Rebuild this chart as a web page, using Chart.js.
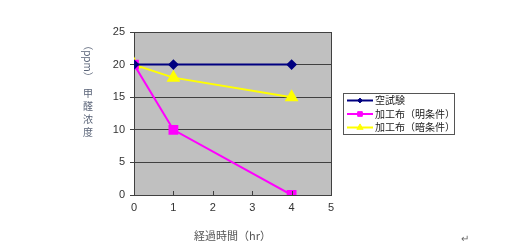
<!DOCTYPE html>
<html><head><meta charset="utf-8">
<script src="https://cdn.jsdelivr.net/npm/chart.js@4/dist/chart.umd.min.js"></script>
<style>html,body{margin:0;padding:0;background:#fff;}#c{display:block;}</style>
</head><body>
<canvas id="c" width="505" height="246"></canvas>
<script>
const xValues = [0, 1, 4];
const seriesNames = ['空試験', '加工布（明条件）', '加工布（暗条件）'];
const blank = [20, 20, 20];
const lightCond = [20, 10, 0];
const darkCond = [20, 18, 15];
const xTitle = '経過時間（hr）';
const yTitleUnit = '（ppm）';
const yTitleChars = ['甲', '醛', '浓', '度'];

const CJK = '"Noto Sans CJK JP", sans-serif';
const LAT = '"Liberation Sans", Arial, sans-serif';

function pts(vals){ return xValues.map((x,i)=>({x:x,y:vals[i]})); }

const bgPlugin = {
  id:'bg',
  beforeDraw(chart){
    const {ctx, chartArea:a} = chart;
    ctx.save(); ctx.fillStyle='#c0c0c0';
    ctx.fillRect(a.left, a.top, a.right-a.left, a.bottom-a.top);
    ctx.restore();
  },
  afterDraw(chart){
    const {ctx, chartArea:a, scales} = chart;
    ctx.save();
    ctx.strokeStyle='#404040'; ctx.lineWidth=1;
    for(let v=0; v<=5; v++){
      const px=Math.round(scales.x.getPixelForValue(v))+0.5;
      ctx.beginPath(); ctx.moveTo(px,a.bottom); ctx.lineTo(px,a.bottom-4); ctx.stroke();
    }
    // y title
    ctx.fillStyle='#5a6478';
    ctx.font='10px '+CJK;
    ctx.save();
    ctx.translate(88, 61);
    ctx.rotate(Math.PI/2);
    ctx.textAlign='center'; ctx.textBaseline='middle';
    ctx.fillText(yTitleUnit,0,0);
    ctx.restore();
    ctx.textAlign='center'; ctx.textBaseline='middle';
    yTitleChars.forEach((ch,i)=>ctx.fillText(ch, 88, 93 + i*13));
    // legend
    const lx=343, ly=93, lw=111, lh=41;
    ctx.fillStyle='#ffffff'; ctx.fillRect(lx,ly,lw,lh);
    ctx.strokeStyle='#555'; ctx.lineWidth=1; ctx.strokeRect(lx+0.5,ly+0.5,lw,lh);
    chart.data.datasets.forEach((ds,i)=>{
      const y = ly+7.5+i*13.5;
      ctx.strokeStyle=ds.borderColor; ctx.lineWidth=2;
      ctx.beginPath(); ctx.moveTo(lx+4,y); ctx.lineTo(lx+30,y); ctx.stroke();
      ctx.fillStyle=ds.borderColor; ctx.strokeStyle=ds.borderColor; ctx.lineWidth=1;
      Chart.helpers.drawPoint(ctx,{pointStyle:ds.pointStyle, radius:ds.pointRadius*0.6, borderWidth:1},lx+17,y);
      ctx.fillStyle='#222'; ctx.font='10px '+CJK; ctx.textAlign='left'; ctx.textBaseline='middle';
      ctx.fillText(ds.label, lx+32, y);
    });
    ctx.fillStyle='#666'; ctx.font='10px '+CJK; ctx.textAlign='center';
    ctx.fillText('↵', 465, 238);
    ctx.restore();
  }
};

function ds(label, data, color, style, r){
  return {label, data:pts(data), borderColor:color, backgroundColor:color, pointStyle:style,
    pointRadius:r, pointHoverRadius:r, borderWidth:2, pointBorderColor:color, pointBackgroundColor:color, tension:0};
}

new Chart(document.getElementById('c'), {
  type:'line',
  data:{datasets:[
    ds(seriesNames[0], blank, '#000080', 'rectRot', 4),
    ds(seriesNames[1], lightCond, '#ff00ff', 'rect', 5.5),
    ds(seriesNames[2], darkCond, '#ffff00', 'triangle', 6)
  ]},
  plugins:[bgPlugin],
  options:{
    responsive:false, animation:false, devicePixelRatio:1,
    layout:{padding:{left:0,right:174,top:32,bottom:0}},
    plugins:{legend:{display:false}, tooltip:{enabled:false}},
    scales:{
      x:{type:'linear', min:0, max:5,
        ticks:{stepSize:1, color:'#333', font:{family:LAT, size:11}, padding:6},
        grid:{display:false, drawTicks:false},
        border:{display:true, color:'#404040', width:1},
        title:{display:true, text:xTitle, color:'#555', font:{family:CJK, size:11}, padding:{top:10,bottom:4}},
        afterFit(s){ s.height = 51; }
      },
      y:{min:0, max:25,
        ticks:{stepSize:5, color:'#333', font:{family:LAT, size:11}, padding:5},
        grid:{color:'#404040', lineWidth:1, tickLength:4, drawTicks:true, tickColor:'#404040'},
        border:{display:true, color:'#404040', width:1},
        afterFit(s){ s.width = 134; }
      },
      x2:{type:'linear', position:'top', min:0, max:5, display:true,
        ticks:{display:false}, grid:{display:false, drawTicks:false}, border:{display:true,color:'#404040'}, afterFit(s){s.height=0;}},
      y2:{position:'right', min:0, max:25, display:true,
        ticks:{display:false}, grid:{display:false, drawTicks:false}, border:{display:true,color:'#404040'}, afterFit(s){s.width=0;}}
    }
  }
});
</script>
</body></html>
